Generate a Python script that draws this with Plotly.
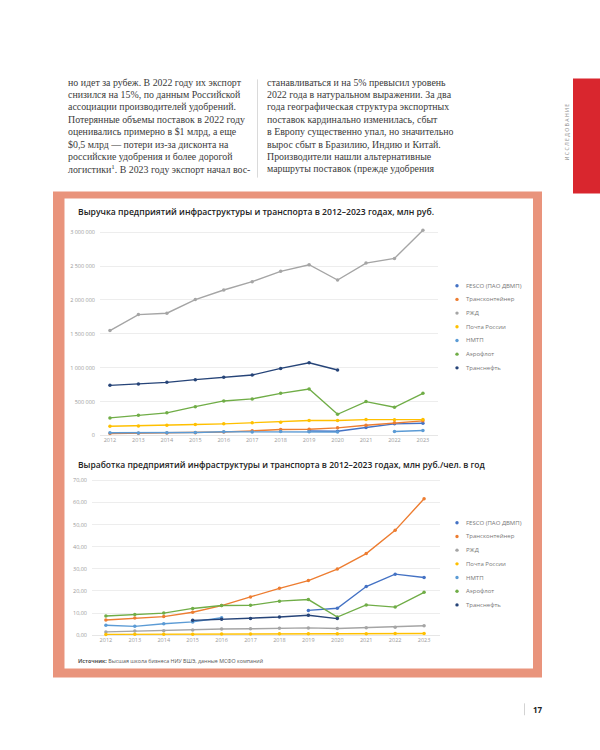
import plotly.graph_objects as go

W, H = 600, 750
def px(x): return x / W
def py(y): return 1 - y / H

years = list(range(2012, 2024))
series_names = ["FESCO (ПАО ДВМП)", "Трансконтейнер", "РЖД", "Почта России", "НМТП", "Аэрофлот", "Транснефть"]
colors = ["#4472C4", "#ED7D31", "#A5A5A5", "#FFC000", "#5B9BD5", "#70AD47", "#264478"]

# Revenue, mln rub
rev_fesco = [None, None, None, None, None, None, None, 66000, 62000, 118000, 172000, 181000]
rev_transcont = [30000, 33000, 36000, 42000, 52000, 69000, 88000, 93000, 113000, 151000, 187000, 216000]
rev_rzd = [1548000, 1784000, 1804000, 2005000, 2147000, 2270000, 2422000, 2520000, 2294000, 2544000, 2613000, 3030000]
rev_pochta = [137000, 142000, 151000, 162000, 172000, 187000, 196000, 221000, 222000, 235000, 234000, 235000]
rev_nmtp = [40000, 38000, 42000, 45000, 55000, 52000, 58000, 55000, 52000, None, 59000, 74000]
rev_aeroflot = [260000, 299000, 334000, 426000, 510000, 540000, 622000, 687000, 313000, 500000, 416000, 622000]
rev_transneft = [740000, 760000, 784000, 824000, 858000, 892000, 990000, 1074000, 966000, None, None, None]

# Productivity, mln rub per employee
prod_fesco = [None, None, None, None, None, None, None, 11.2, 12.2, 22.0, 27.6, 26.1]
prod_transcont = [6.9, 7.8, 8.4, 10.4, 13.4, 17.3, 21.2, 24.7, 29.9, 36.9, 47.4, 61.7]
prod_rzd = [1.5, 1.9, 2.0, 2.4, 2.8, 2.9, 3.1, 3.3, 3.0, 3.4, 3.6, 4.3]
prod_pochta = [0.35, 0.38, 0.4, 0.45, 0.5, 0.55, 0.6, 0.62, 0.65, 0.7, 0.72, 0.75]
prod_nmtp = [4.5, 4.0, 5.2, 6.0, 7.9, None, None, None, None, None, None, None]
prod_aeroflot = [8.7, 9.4, 10.0, 12.1, 13.4, 13.5, 15.4, 16.1, 8.2, 13.7, 12.7, 19.4]
prod_transneft = [None, None, None, 6.7, 7.2, 7.5, 8.2, 9.0, 7.5, None, None, None]

rev_series = [rev_fesco, rev_transcont, rev_rzd, rev_pochta, rev_nmtp, rev_aeroflot, rev_transneft]
prod_series = [prod_fesco, prod_transcont, prod_rzd, prod_pochta, prod_nmtp, prod_aeroflot, prod_transneft]

rev_ticks = [0, 500000, 1000000, 1500000, 2000000, 2500000, 3000000]
prod_ticks = [0, 10, 20, 30, 40, 50, 60, 70]

title1 = "Выручка предприятий инфраструктуры и транспорта в 2012–2023 годах, млн руб."
title2 = "Выработка предприятий инфраструктуры и транспорта в 2012–2023 годах, млн руб./чел. в год"
source_text = "<b>Источник:</b> Высшая школа бизнеса НИУ ВШЭ, данные МСФО компаний"

left_col = [
    "но идет за рубеж. В 2022 году их экспорт",
    "снизился на 15%, по данным Российской",
    "ассоциации производителей удобрений.",
    "Потерянные объемы поставок в 2022 году",
    "оценивались примерно в $1 млрд, а еще",
    "$0,5 млрд — потери из-за дисконта на",
    "российские удобрения и более дорогой",
    "логистики<sup>1</sup>. В 2023 году экспорт начал вос-",
]
right_col = [
    "станавливаться и на 5% превысил уровень",
    "2022 года в натуральном выражении. За два",
    "года географическая структура экспортных",
    "поставок кардинально изменилась, сбыт",
    "в Европу существенно упал, но значительно",
    "вырос сбыт в Бразилию, Индию и Китай.",
    "Производители нашли альтернативные",
    "маршруты поставок (прежде удобрения",
]

fig = go.Figure()
for name, col, vals in zip(series_names, colors, rev_series):
    fig.add_trace(go.Scatter(x=years, y=vals, mode="lines+markers", name=name,
                             line=dict(color=col, width=1.4), marker=dict(size=3.5, color=col),
                             xaxis="x", yaxis="y", showlegend=False, cliponaxis=False, connectgaps=False))
for name, col, vals in zip(series_names, colors, prod_series):
    fig.add_trace(go.Scatter(x=years, y=vals, mode="lines+markers", name=name,
                             line=dict(color=col, width=1.4), marker=dict(size=3.5, color=col),
                             xaxis="x2", yaxis="y2", showlegend=False, cliponaxis=False, connectgaps=False))

sans = "Open Sans"
serif = "Liberation Serif"
tickfont = dict(family=sans, size=5.5, color="#9a9a9a")

fig.update_layout(
    width=W, height=H, margin=dict(l=0, r=0, t=0, b=0),
    paper_bgcolor="white", plot_bgcolor="rgba(0,0,0,0)",
    separators=", ", showlegend=False, hovermode=False,
    xaxis=dict(domain=[px(100), px(438)], range=[2011.65, 2023.53], tickvals=years,
               tickfont=tickfont, showgrid=False, zeroline=False, showline=False, ticks="", anchor="y"),
    yaxis=dict(domain=[py(437), py(225.2)], range=[0, 3100000], tickvals=rev_ticks, tickformat=",d",
               tickfont=tickfont, gridcolor="#e9e9e9", gridwidth=0.8, zeroline=True, zerolinecolor="#e0e0e0",
               zerolinewidth=0.8, showline=False, ticks="", ticklabelstandoff=4, anchor="x"),
    xaxis2=dict(domain=[px(92), px(440)], range=[2011.52, 2023.55], tickvals=years,
                tickfont=tickfont, showgrid=False, zeroline=False, showline=False, ticks="", anchor="y2"),
    yaxis2=dict(domain=[py(638.3), py(480)], range=[0, 71], tickvals=prod_ticks, tickformat=".2f",
                tickfont=tickfont, gridcolor="#e9e9e9", gridwidth=0.8, zeroline=True, zerolinecolor="#e0e0e0",
                zerolinewidth=0.8, showline=False, ticks="", ticklabelstandoff=4, anchor="x2"),
)

shapes = []
# salmon frame
shapes.append(dict(type="rect", xref="paper", yref="paper", x0=px(53), x1=px(542), y0=py(681), y1=py(191),
                   fillcolor="#E9947C", line=dict(width=0), layer="below"))
shapes.append(dict(type="rect", xref="paper", yref="paper", x0=px(64.5), x1=px(533), y0=py(672), y1=py(198),
                   fillcolor="white", line=dict(width=0), layer="below"))
# red side tab
shapes.append(dict(type="rect", xref="paper", yref="paper", x0=px(573), x1=px(600), y0=py(193), y1=py(77),
                   fillcolor="#D9262E", line=dict(width=0), layer="below"))
# column divider
shapes.append(dict(type="line", xref="paper", yref="paper", x0=px(257.5), x1=px(257.5), y0=py(78), y1=py(177),
                   line=dict(color="#d0d0d0", width=0.8)))
# page number divider
shapes.append(dict(type="line", xref="paper", yref="paper", x0=px(524.5), x1=px(524.5), y0=py(707), y1=py(719),
                   line=dict(color="#c8c8c8", width=0.8)))

ann = []
body_font = dict(family=serif, size=9.9, color="#3a3a3a")
for i, line in enumerate(left_col):
    ann.append(dict(x=px(66), y=py(80.7 + i * 12.52), xref="paper", yref="paper", text=line, showarrow=False,
                    xanchor="left", yanchor="middle", font=body_font))
for i, line in enumerate(right_col):
    ann.append(dict(x=px(265), y=py(80.7 + i * 12.52), xref="paper", yref="paper", text=line, showarrow=False,
                    xanchor="left", yanchor="middle", font=body_font))
# side label
ann.append(dict(x=px(566.5), y=py(131), xref="paper", yref="paper", text="И С С Л Е Д О В А Н И Е",
                showarrow=False, textangle=-90, xanchor="center", yanchor="middle",
                font=dict(family=sans, size=5.2, color="#888888")))
# titles
ann.append(dict(x=px(76), y=py(212), xref="paper", yref="paper", text=title1, showarrow=False,
                xanchor="left", yanchor="middle", font=dict(family=sans, size=8.6, color="#222222", weight=600)))
ann.append(dict(x=px(76), y=py(466), xref="paper", yref="paper", text=title2, showarrow=False,
                xanchor="left", yanchor="middle", font=dict(family=sans, size=8.5, color="#222222", weight=600)))
ann.append(dict(x=px(76), y=py(664), xref="paper", yref="paper", text=source_text, showarrow=False,
                xanchor="left", yanchor="middle", font=dict(family=sans, size=5.3, color="#555555")))
# page number
ann.append(dict(x=px(531), y=py(713), xref="paper", yref="paper", text="<b>17</b>", showarrow=False,
                xanchor="left", yanchor="middle", font=dict(family=sans, size=8, color="#222222")))

# legends
for top in (286, 525):
    for i, (name, col) in enumerate(zip(series_names, colors)):
        yy = top + i * 13.8
        shapes.append(dict(type="circle", xref="paper", yref="paper",
                           x0=px(455.3), x1=px(458.7), y0=py(yy + 1.7), y1=py(yy - 1.7),
                           fillcolor=col, line=dict(width=0)))
        ann.append(dict(x=px(464), y=py(yy), xref="paper", yref="paper", text=name, showarrow=False,
                        xanchor="left", yanchor="middle", font=dict(family=sans, size=6, color="#777777")))

fig.update_layout(shapes=shapes, annotations=ann)
fig.write_html("out.html", config={"displayModeBar": False, "staticPlot": True},
               post_script="document.body.style.margin='0';document.body.style.padding='0';document.documentElement.style.overflow='hidden';")
